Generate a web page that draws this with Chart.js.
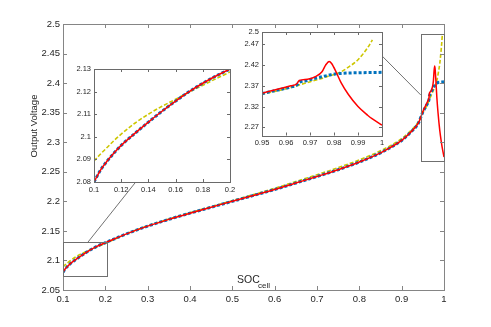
<!DOCTYPE html>
<html>
<head>
<meta charset="utf-8">
<script src="https://cdn.jsdelivr.net/npm/chart.js@4.4.1/dist/chart.umd.min.js"></script>
<style>
  html, body { margin: 0; padding: 0; background: #fff; }
  #wrap { position: relative; width: 491px; height: 327px; }
  #wrap canvas { position: absolute; }
</style>
</head>
<body>
<div id="wrap">
  <canvas id="main" width="491" height="327" style="left:0;top:0"></canvas>
  <canvas id="zoomLow" width="180" height="140" style="left:60px;top:60px"></canvas>
  <canvas id="zoomHigh" width="160" height="130" style="left:230px;top:22px"></canvas>
</div>
<script>
// state of charge of the cell
var soc = [0.1, 0.105, 0.11, 0.115, 0.12, 0.13, 0.14, 0.15, 0.16, 0.17, 0.18, 0.19, 0.2,
  0.25, 0.3, 0.35, 0.4, 0.45, 0.5, 0.55, 0.6, 0.65, 0.7, 0.75, 0.8, 0.85, 0.9, 0.92, 0.94,
  0.95, 0.954, 0.958, 0.962, 0.9645, 0.9655, 0.969, 0.9725, 0.975, 0.9765, 0.978, 0.979,
  0.981, 0.983, 0.986, 0.99, 0.994, 0.996, 1.0];

// output voltage, three models
var vRed = [2.080, 2.0855, 2.0895, 2.0930, 2.0962, 2.1015, 2.1065, 2.1113, 2.1158, 2.1200, 2.1237, 2.1270, 2.1300,
  2.1450, 2.1580, 2.1695, 2.1800, 2.1900, 2.2000, 2.2100, 2.2200, 2.2310, 2.2420, 2.2535, 2.2665, 2.2820, 2.3030, 2.3160, 2.3330,
  2.3520, 2.3580, 2.3640, 2.3700, 2.3750, 2.3830, 2.3860, 2.3930, 2.4040, 2.4200, 2.4290, 2.4240,
  2.4020, 2.3770, 2.3490, 2.3200, 2.2990, 2.2900, 2.2750];

var vBlue = [2.080, 2.0855, 2.0895, 2.0930, 2.0962, 2.1015, 2.1065, 2.1113, 2.1158, 2.1200, 2.1237, 2.1270, 2.1300,
  2.1450, 2.1580, 2.1695, 2.1800, 2.1900, 2.2000, 2.2100, 2.2200, 2.2310, 2.2420, 2.2535, 2.2665, 2.2820, 2.3030, 2.3160, 2.3330,
  2.3510, 2.3565, 2.3615, 2.3670, 2.3720, 2.3780, 2.3830, 2.3890, 2.3920, 2.3940, 2.3960, 2.3970,
  2.3990, 2.4000, 2.4010, 2.4015, 2.4020, 2.4020, 2.4025];

var vYellow = [2.0893, 2.0925, 2.0955, 2.0985, 2.1012, 2.1060, 2.1100, 2.1135, 2.1166, 2.1198, 2.1228, 2.1258, 2.1287,
  2.1450, 2.1585, 2.1700, 2.1808, 2.1910, 2.2012, 2.2115, 2.2220, 2.2335, 2.2450, 2.2570, 2.2700, 2.2855, 2.3060, 2.3185, 2.3350,
  2.3500, 2.3550, 2.3600, 2.3660, 2.3700, 2.3720, 2.3780, 2.3840, 2.3880, 2.3910, 2.3940, 2.3955,
  2.3990, 2.4040, 2.4150, 2.4330, 2.4620, 2.4810, null];

// tick labels
var mainXTicks = [0.1, 0.2, 0.3, 0.4, 0.5, 0.6, 0.7, 0.8, 0.9, 1];
var mainYTicks = [2.05, 2.1, 2.15, 2.2, 2.25, 2.3, 2.35, 2.4, 2.45, 2.5];
var lowXTicks = [0.1, 0.12, 0.14, 0.16, 0.18, 0.2];
var lowYTicks = [2.08, 2.09, 2.1, 2.11, 2.12, 2.13];
var highXTicks = [0.95, 0.96, 0.97, 0.98, 0.99, 1];
var highYTicks = [2.27, 2.32, 2.37, 2.42, 2.47, 2.5];

var FONT = "'Liberation Sans', Arial, Helvetica, sans-serif";

function points(ys) {
  var out = [];
  for (var i = 0; i < soc.length; i++) {
    if (ys[i] !== null) out.push({x: soc[i], y: ys[i]});
  }
  return out;
}

function makeDatasets() {
  return [
    {data: points(vRed), borderColor: '#ff0000', borderWidth: 1.5},
    {data: points(vBlue), borderColor: '#0072bd', borderWidth: 3, borderDash: [3, 2]},
    {data: points(vYellow), borderColor: '#cdc600', borderWidth: 1.6, borderDash: [4, 2]}
  ].map(function(d){
    d.pointRadius = 0;
    d.showLine = true;
    d.fill = false;
    d.cubicInterpolationMode = 'monotone';
    return d;
  });
}

function fixedTicks(list) {
  return function(scale){
    scale.ticks = list.map(function(v){ return {value: v}; });
  };
}

// white plot box, frame and inward ticks on all four sides
var frame = {
  id: 'frame',
  beforeDraw: function(chart, args, opts) {
    var a = chart.chartArea, ctx = chart.ctx;
    ctx.save();
    ctx.fillStyle = '#fff';
    ctx.fillRect(a.left, a.top, a.right - a.left, a.bottom - a.top);
    ctx.restore();
  },
  afterDatasetsDraw: function(chart, args, opts) {
    var a = chart.chartArea, ctx = chart.ctx;
    var x = chart.scales.x, y = chart.scales.y;
    var len = opts.tick;
    ctx.save();
    ctx.strokeStyle = opts.color;
    ctx.lineWidth = 1;
    ctx.beginPath();
    x.ticks.forEach(function(t){
      var px = Math.round(x.getPixelForValue(t.value)) + 0.5;
      ctx.moveTo(px, a.bottom); ctx.lineTo(px, a.bottom - len);
      ctx.moveTo(px, a.top); ctx.lineTo(px, a.top + len);
    });
    y.ticks.forEach(function(t){
      var py = Math.round(y.getPixelForValue(t.value)) + 0.5;
      ctx.moveTo(a.left, py); ctx.lineTo(a.left + len, py);
      ctx.moveTo(a.right, py); ctx.lineTo(a.right - len, py);
    });
    ctx.stroke();
    ctx.strokeRect(Math.round(a.left) + 0.5, Math.round(a.top) + 0.5,
      Math.round(a.right - a.left), Math.round(a.bottom - a.top));
    ctx.restore();
  }
};

// zoom boxes, connector lines and axis titles on the main axes
var notes = {
  id: 'notes',
  afterDraw: function(chart) {
    var ctx = chart.ctx, x = chart.scales.x, y = chart.scales.y;
    ctx.save();
    ctx.strokeStyle = '#6f6f6f';
    ctx.lineWidth = 1;
    [[0.1, 2.074, 0.204, 2.131], [0.945, 2.268, 1.0, 2.483]].forEach(function(r){
      var x0 = Math.round(x.getPixelForValue(r[0])) + 0.5, x1 = Math.round(x.getPixelForValue(r[2])) + 0.5;
      var y0 = Math.round(y.getPixelForValue(r[3])) + 0.5, y1 = Math.round(y.getPixelForValue(r[1])) + 0.5;
      ctx.strokeRect(x0, y0, x1 - x0, y1 - y0);
    });
    ctx.strokeStyle = '#333';
    ctx.lineWidth = 0.7;
    ctx.beginPath();
    [[0.27, 2.231, 0.159, 2.131], [0.8536, 2.446, 0.945, 2.380]].forEach(function(l){
      ctx.moveTo(x.getPixelForValue(l[0]), y.getPixelForValue(l[1]));
      ctx.lineTo(x.getPixelForValue(l[2]), y.getPixelForValue(l[3]));
    });
    ctx.stroke();

    ctx.fillStyle = '#262626';
    ctx.font = '10.5px ' + FONT;
    ctx.textBaseline = 'alphabetic';
    ctx.textAlign = 'left';
    ctx.fillText('SOC', 237, 283);
    ctx.font = '8px ' + FONT;
    ctx.fillText('cell', 258, 287.5);

    ctx.font = '9.5px ' + FONT;
    ctx.translate(36.5, 126);
    ctx.rotate(-Math.PI / 2);
    ctx.textAlign = 'center';
    ctx.fillText('Output Voltage', 0, 0);
    ctx.restore();
  }
};

function axes(o) {
  function ax(min, max, list, size, pad, fit) {
    return {
      type: 'linear', min: min, max: max,
      afterBuildTicks: fixedTicks(list),
      afterFit: fit,
      grid: {display: false, drawTicks: false},
      border: {display: false},
      ticks: {
        padding: pad, autoSkip: false, maxRotation: 0, color: '#262626',
        font: {family: FONT, size: size},
        callback: function(v){ return String(v); }
      }
    };
  }
  return {
    x: ax(o.xmin, o.xmax, o.xticks, o.font, o.xpad, function(s){ s.height = o.xh; }),
    y: ax(o.ymin, o.ymax, o.yticks, o.font, o.ypad, function(s){ s.width = o.yw; })
  };
}

function makeChart(id, o, extra) {
  return new Chart(document.getElementById(id), {
    type: 'scatter',
    data: {datasets: makeDatasets()},
    options: {
      responsive: false,
      animation: false,
      devicePixelRatio: 1,
      layout: {padding: o.padding},
      scales: axes(o),
      plugins: {
        legend: {display: false},
        tooltip: {enabled: false},
        frame: {color: o.frameColor, tick: o.tick}
      }
    },
    plugins: [frame].concat(extra || [])
  });
}

makeChart('main', {
  xmin: 0.1, xmax: 1, ymin: 2.05, ymax: 2.5,
  xticks: mainXTicks, yticks: mainYTicks,
  font: 9.5, xpad: 4, ypad: 3, xh: 37, yw: 63,
  padding: {left: 0, top: 24, right: 47, bottom: 0},
  frameColor: '#858585', tick: 4
}, [notes]);

makeChart('zoomLow', {
  xmin: 0.1, xmax: 0.2, ymin: 2.08, ymax: 2.13,
  xticks: lowXTicks, yticks: lowYTicks,
  font: 7.5, xpad: 3, ypad: 3, xh: 18, yw: 34,
  padding: {left: 0, top: 9, right: 10, bottom: 0},
  frameColor: '#6a6a6a', tick: 3
});

makeChart('zoomHigh', {
  xmin: 0.95, xmax: 1, ymin: 2.25, ymax: 2.5,
  xticks: highXTicks, yticks: highYTicks,
  font: 7.5, xpad: 2.5, ypad: 3, xh: 16.5, yw: 32,
  padding: {left: 0, top: 10, right: 8, bottom: 0},
  frameColor: '#6a6a6a', tick: 3
});
</script>
</body>
</html>
